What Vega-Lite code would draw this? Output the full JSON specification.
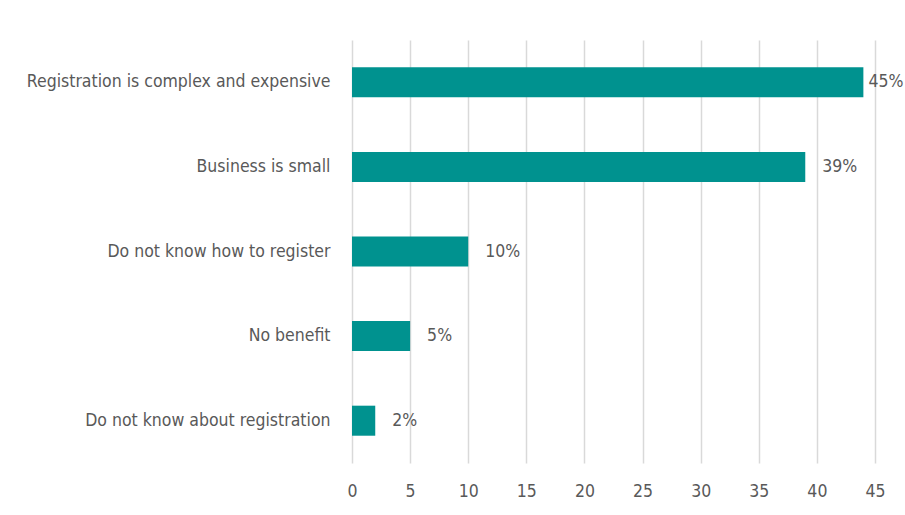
{
  "$schema": "https://vega.github.io/schema/vega-lite/v6.json",
  "width": 523,
  "height": 423,
  "autosize": {"type": "none"},
  "padding": {"left": 352, "top": 40, "right": 30, "bottom": 52},
  "background": "white",
  "config": {
    "view": {"stroke": null},
    "font": "'DejaVu Sans Condensed', 'Liberation Sans', sans-serif",
    "axis": {"labelFont": "'DejaVu Sans Condensed', 'Liberation Sans', sans-serif", "labelColor": "#595959", "labelFontSize": 17.5}
  },
  "data": {
    "values": [
      {"reason": "Registration is complex and expensive", "value": 44, "label": "45%"},
      {"reason": "Business is small", "value": 39, "label": "39%"},
      {"reason": "Do not know how to register", "value": 10, "label": "10%"},
      {"reason": "No benefit", "value": 5, "label": "5%"},
      {"reason": "Do not know about registration", "value": 2, "label": "2%"}
    ]
  },
  "encoding": {
    "y": {
      "field": "reason", "type": "nominal", "sort": null,
      "scale": {"paddingInner": 0.645, "paddingOuter": 0.3225},
      "axis": {"title": null, "ticks": false, "domain": false, "labelPadding": 22, "labelLimit": 400}
    },
    "x": {
      "field": "value", "type": "quantitative",
      "scale": {"domain": [0, 45], "nice": false},
      "axis": {
        "title": null, "values": [0,5,10,15,20,25,30,35,40,45],
        "domain": false, "ticks": false, "labelPadding": 19, "labelFlush": false,
        "grid": true, "gridColor": "#d9d9d9", "gridWidth": 1.5
      }
    }
  },
  "layer": [
    {"mark": {"type": "bar", "color": "#00928F"}},
    {
      "transform": [{"filter": "datum.value < 40"}],
      "mark": {"type": "text", "align": "left", "dx": 17, "fontSize": 17.5, "color": "#595959"},
      "encoding": {"text": {"field": "label"}}
    },
    {
      "transform": [{"filter": "datum.value >= 40"}],
      "mark": {"type": "text", "align": "left", "dx": 5, "fontSize": 17.5, "color": "#595959"},
      "encoding": {"text": {"field": "label"}}
    }
  ]
}
